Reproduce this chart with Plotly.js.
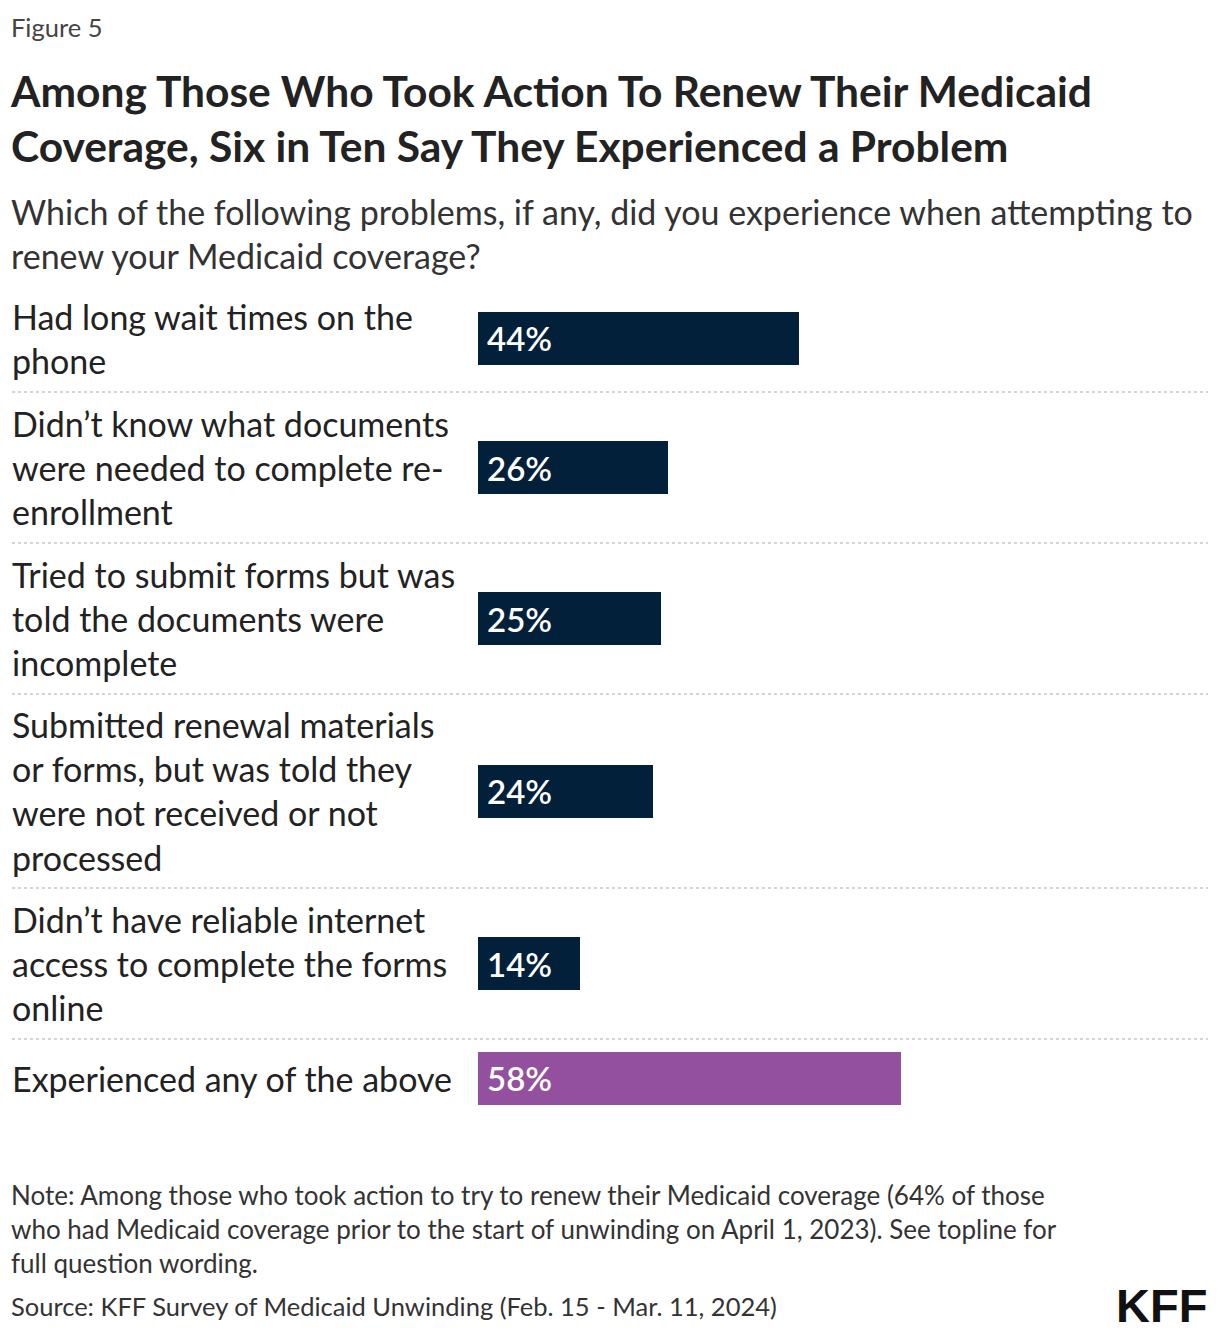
<!DOCTYPE html>
<html>
<head>
<meta charset="utf-8">
<script src="https://cdn.plot.ly/plotly-3.0.1.min.js"></script>
<style>html,body{margin:0;padding:0;background:#fff;}#chart{width:1220px;height:1334px;}</style>
</head>
<body>
<div id="chart"></div>
<script>
// ---- data ----
const categories = [
  "Had long wait times on the<br>phone",
  "Didn’t know what documents<br>were needed to complete re-<br>enrollment",
  "Tried to submit forms but was<br>told the documents were<br>incomplete",
  "Submitted renewal materials<br>or forms, but was told they<br>were not received or not<br>processed",
  "Didn’t have reliable internet<br>access to complete the forms<br>online",
  "Experienced any of the above"
];
const values = [44, 26, 25, 24, 14, 58];
const figureLabel = "Figure 5";
const titleText = "<b>Among Those Who Took Action To Renew Their Medicaid<br>Coverage, Six in Ten Say They Experienced a Problem</b>";
const subtitleText = "Which of the following problems, if any, did you experience when attempting to<br>renew your Medicaid coverage?";
const noteText = "Note: Among those who took action to try to renew their Medicaid coverage (64% of those<br>who had Medicaid coverage prior to the start of unwinding on April 1, 2023). See topline for<br>full question wording.";
const sourceText = "Source: KFF Survey of Medicaid Unwinding (Feb. 15 - Mar. 11, 2024)";

// ---- layout helpers ----
const W = 1220, H = 1334;
const plotLeft = 478, plotRight = 1208, plotTop = 284;
const FONT = "Lato, 'Open Sans', sans-serif";
const navy = "#03203A", purple = "#93509E", textCol = "#222222";

// row heights derived from number of label lines
const rowH = categories.map(c => Math.max(c.split("<br>").length * 43 + 22, 78));
const centers = [], bounds = [];
let acc = 0;
rowH.forEach((h, i) => { centers.push(acc + h / 2); acc += h; if (i < rowH.length - 1) bounds.push(acc); });
const total = acc;
const plotBottom = plotTop + total;
const pxX = px => (px - plotLeft) / (plotRight - plotLeft);
const pxY = py => (plotBottom - py) / (plotBottom - plotTop);

const colors = values.map((v, i) => i === values.length - 1 ? purple : navy);

const trace = {
  type: "bar", orientation: "h",
  x: values, y: centers, width: 53,
  marker: {color: colors},
  hoverinfo: "skip"
};

const annotations = [];
categories.forEach((c, i) => {
  annotations.push({xref: "paper", yref: "y", x: pxX(10), y: centers[i], xanchor: "left", yanchor: "middle",
    align: "left", text: c, showarrow: false, font: {family: FONT, size: 34, color: textCol}});
  annotations.push({xref: "x", yref: "y", x: 0, y: centers[i], xanchor: "left", yanchor: "middle", xshift: 7,
    text: values[i] + "%", showarrow: false, font: {family: FONT, size: 33, color: "#ffffff", weight: 600}});
});
// header / footer text
annotations.push({xref: "paper", yref: "paper", x: pxX(9), y: pxY(27), xanchor: "left", yanchor: "middle",
  text: figureLabel, showarrow: false, font: {family: FONT, size: 25.5, color: "#444"}});
annotations.push({xref: "paper", yref: "paper", x: pxX(8), y: pxY(118), xanchor: "left", yanchor: "middle", align: "left",
  text: titleText, showarrow: false, font: {family: FONT, size: 42.5, color: "#222"}});
annotations.push({xref: "paper", yref: "paper", x: pxX(9), y: pxY(234), xanchor: "left", yanchor: "middle", align: "left",
  text: subtitleText, showarrow: false, font: {family: FONT, size: 34, color: "#333"}});
annotations.push({xref: "paper", yref: "paper", x: pxX(9), y: pxY(1229), xanchor: "left", yanchor: "middle", align: "left",
  text: noteText, showarrow: false, font: {family: FONT, size: 26, color: "#333"}});
annotations.push({xref: "paper", yref: "paper", x: pxX(9), y: pxY(1306), xanchor: "left", yanchor: "middle", align: "left",
  text: sourceText, showarrow: false, font: {family: FONT, size: 25.5, color: "#333"}});
annotations.push({xref: "paper", yref: "paper", x: pxX(1209), y: pxY(1305), xanchor: "right", yanchor: "middle",
  text: "<b>KFF</b>", showarrow: false, font: {family: "'Liberation Sans', Arial, sans-serif", size: 47, color: "#111"}});

const shapes = bounds.map(b => ({type: "line", xref: "paper", yref: "y", x0: pxX(12), x1: 1, y0: b, y1: b,
  line: {color: "#c8c8c8", width: 1.5, dash: "dot"}}));

const layout = {
  width: W, height: H,
  margin: {l: plotLeft, r: W - plotRight, t: plotTop, b: H - plotBottom, pad: 0},
  paper_bgcolor: "#fff", plot_bgcolor: "#fff",
  xaxis: {range: [0, 100], showgrid: false, zeroline: false, showticklabels: false, fixedrange: true},
  yaxis: {range: [total, 0], showgrid: false, zeroline: false, showticklabels: false, fixedrange: true},
  showlegend: false, hovermode: false, bargap: 0,
  annotations: annotations, shapes: shapes,
  font: {family: FONT}
};
Plotly.newPlot("chart", [trace], layout, {displayModeBar: false, staticPlot: true});
</script>
</body>
</html>
